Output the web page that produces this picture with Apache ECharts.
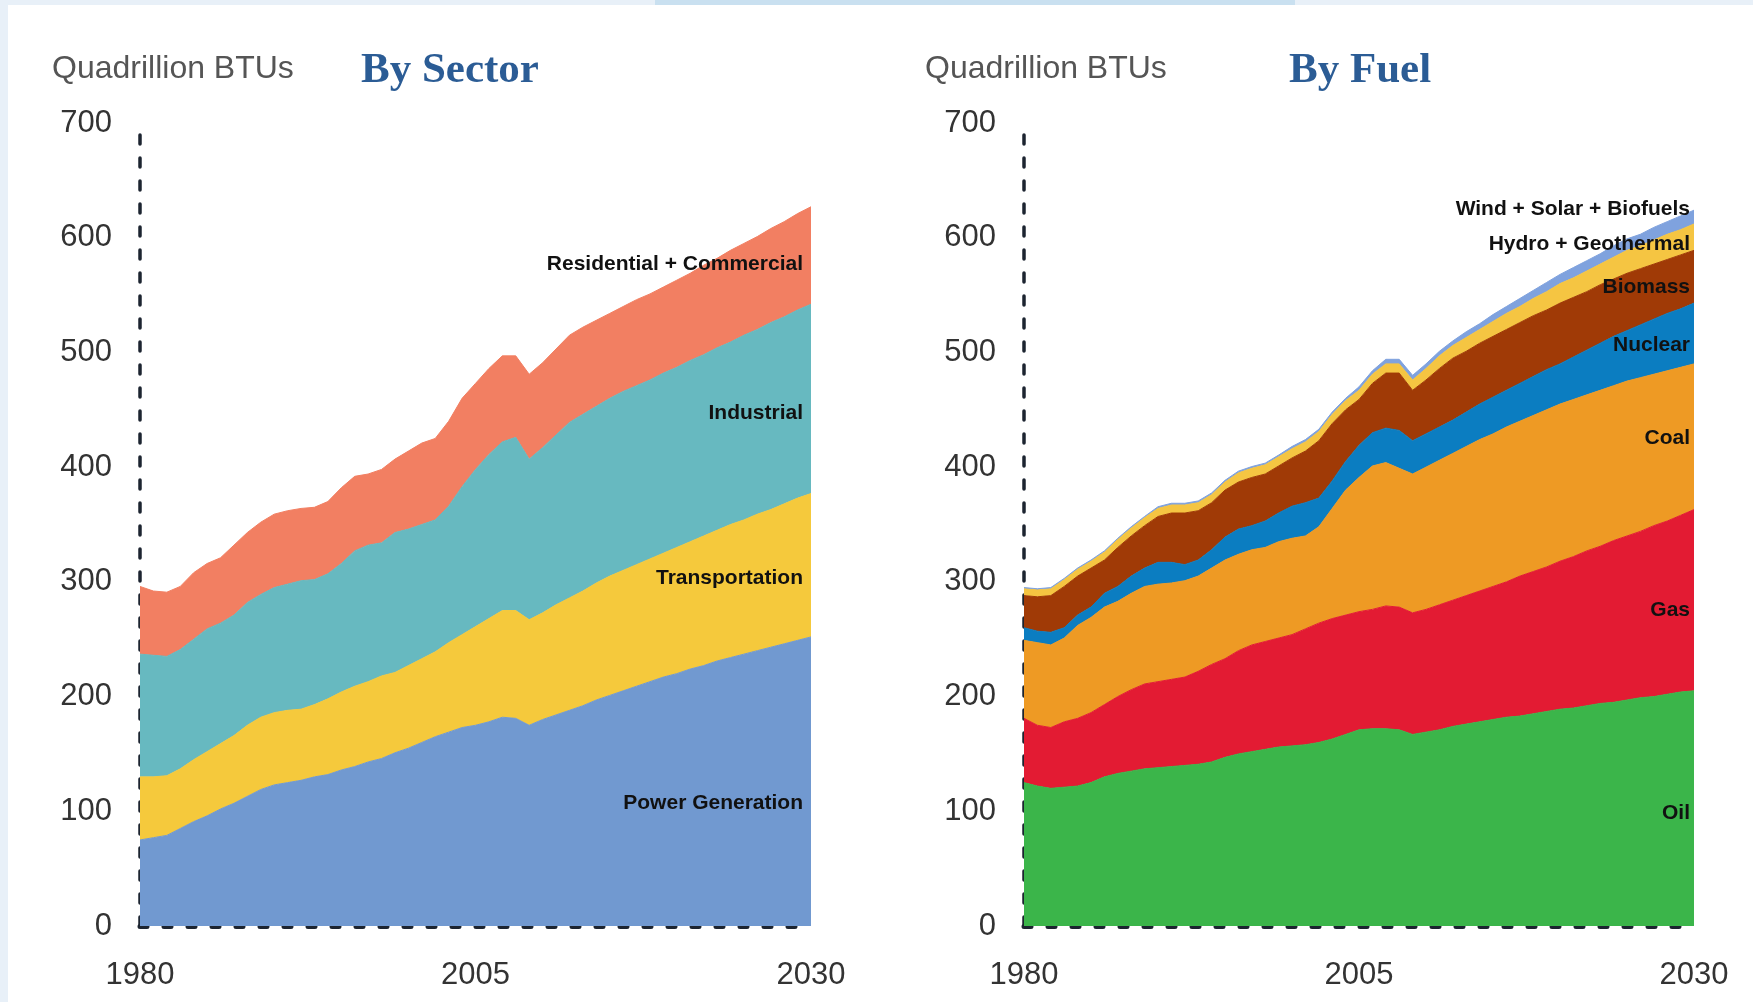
<!DOCTYPE html>
<html>
<head>
<meta charset="utf-8">
<script src="https://cdn.jsdelivr.net/npm/echarts@6/dist/echarts.min.js"></script>
<style>
html,body{margin:0;padding:0;background:#e8f0f8;}
#c{width:1753px;height:1002px;}
</style>
</head>
<body>
<div id="c"></div>
<script>
const years = ['1980','1981','1982','1983','1984','1985','1986','1987','1988','1989',
'1990','1991','1992','1993','1994','1995','1996','1997','1998','1999',
'2000','2001','2002','2003','2004','2005','2006','2007','2008','2009',
'2010','2011','2012','2013','2014','2015','2016','2017','2018','2019',
'2020','2021','2022','2023','2024','2025','2026','2027','2028','2029','2030'];

const yTicks = [0,100,200,300,400,500,600,700];

// By Sector (layer thickness, Quadrillion BTUs)
const powerGeneration = [75,77,79,85,91,96,102,107,113,119,123,125,127,130,132,136,139,143,146,151,155,160,165,169,173,175,178,182,181,175,180,184,188,192,197,201,205,209,213,217,220,224,227,231,234,237,240,243,246,249,252];
const transportation = [55,53,52,52,54,56,57,59,62,63,63,63,62,63,66,68,70,70,72,70,72,73,74,78,81,86,90,93,94,92,93,96,98,100,102,104,105,106,107,108,110,111,113,114,116,117,119,120,122,124,125];
const industrial = [107,106,104,104,105,107,105,105,107,107,109,110,112,109,109,112,118,119,116,122,119,117,115,119,129,137,143,147,151,140,144,148,153,154,154,155,156,156,156,157,157,158,158,159,159,161,161,163,163,164,165];
const residentialCommercial = [59,56,56,55,58,57,57,61,61,63,64,64,63,63,63,66,65,62,64,64,68,71,71,74,77,75,75,75,71,74,74,75,76,76,75,74,74,75,75,75,76,76,78,78,80,80,81,82,83,84,85];

// By Fuel (layer thickness, Quadrillion BTUs)
const oil = [125,122,120,121,122,125,130,133,135,137,138,139,140,141,143,147,150,152,154,156,157,158,160,163,167,171,172,172,171,167,169,171,174,176,178,180,182,183,185,187,189,190,192,194,195,197,199,200,202,204,205];
const gas = [56,53,53,57,59,61,63,67,71,74,75,76,77,81,85,86,90,93,94,95,97,101,104,105,104,103,104,107,107,106,107,109,110,112,114,116,118,122,124,126,129,132,135,137,141,143,145,149,151,154,158];
const coal = [68,72,72,73,81,83,85,83,84,85,85,84,84,83,84,86,84,83,82,84,84,81,84,96,109,117,125,125,121,121,124,126,128,130,132,133,135,135,136,137,137,137,136,136,135,135,134,132,131,129,127];
const nuclear = [11,10,11,9,9,9,12,13,15,16,19,18,14,14,16,20,22,21,23,25,28,29,25,24,25,28,29,30,33,29,29,29,29,30,31,32,32,33,34,35,35,37,39,41,43,44,46,48,50,51,53];
const biomass = [28,30,32,36,34,34,29,34,35,37,40,43,45,43,41,41,41,42,41,41,42,45,50,50,45,40,43,48,50,44,47,51,54,53,53,53,53,53,53,52,53,52,51,51,50,50,49,48,47,47,46];
const hydroGeothermal = [6,6,6,6,6,6,7,7,7,7,7,7,7,7,7,7,8,8,8,8,8,8,8,8,8,8,8,8,8,9,10,11,11,12,12,13,14,14,15,16,17,17,18,18,19,20,20,21,22,22,23];
const windSolarBiofuels = [1,1,1,1,1,1,1,1,1,1,1.5,1.5,1.5,1.5,1.5,1.5,1.5,1.5,1.5,1.5,2,2,2,2,2,3,3,4,4,4,4,4,4,5,5,6,6,7,7,8,8,9,9,9,10,10,10,11,11,12,12];

const sectorSeries = [
  {name:'Power Generation', data:powerGeneration, color:'#7199d0'},
  {name:'Transportation', data:transportation, color:'#f5c93c'},
  {name:'Industrial', data:industrial, color:'#67b9c0'},
  {name:'Residential + Commercial', data:residentialCommercial, color:'#f27f62'}
];
const fuelSeries = [
  {name:'Oil', data:oil, color:'#3bb54a'},
  {name:'Gas', data:gas, color:'#e31b33'},
  {name:'Coal', data:coal, color:'#ee9a24'},
  {name:'Nuclear', data:nuclear, color:'#0b7dc1'},
  {name:'Biomass', data:biomass, color:'#a03a06'},
  {name:'Hydro + Geothermal', data:hydroGeothermal, color:'#f5c542'},
  {name:'Wind + Solar + Biofuels', data:windSolarBiofuels, color:'#7fa2de'}
];

const axisDark = '#1c2430';
function xAxisCfg(idx){
  return {
    type:'category', gridIndex:idx, data:years, boundaryGap:false,
    axisLine:{show:true, lineStyle:{color:axisDark, width:5, type:[7,17]}},
    axisTick:{show:false},
    axisLabel:{interval:24, fontSize:31, color:'#333', margin:34, fontFamily:'Liberation Sans, Arial, sans-serif'},
    splitLine:{show:false}
  };
}
function yAxisCfg(idx){
  return {
    type:'value', gridIndex:idx, min:yTicks[0], max:yTicks[yTicks.length-1], interval:100,
    axisLine:{show:true, lineStyle:{color:axisDark, width:3.5, type:[9,14]}},
    axisTick:{show:false},
    splitLine:{show:false},
    axisLabel:{fontSize:31, color:'#333', margin:28, fontFamily:'Liberation Sans, Arial, sans-serif'}
  };
}
function mk(list, idx, stack){
  return list.map(s => ({
    name:s.name, type:'line', stack:stack, xAxisIndex:idx, yAxisIndex:idx,
    data:s.data, showSymbol:false, symbol:'none', smooth:false,
    lineStyle:{width:1, color:s.color},
    itemStyle:{color:s.color},
    areaStyle:{color:s.color, opacity:1},
    emphasis:{disabled:true}, silent:true
  }));
}

const lblFont = 'bold 21px "Liberation Sans", Arial, sans-serif';
function lbl(text, right, cy){
  return {type:'text', z:100, right:right, top:cy-9, style:{text:text, font:lblFont, fill:'#111', textAlign:'right'}};
}

const chart = echarts.init(document.getElementById('c'), null, {renderer:'canvas'});
chart.setOption({
  backgroundColor:'transparent',
  animation:false,
  grid:[
    {left:140, top:123, width:671, bottom:76},
    {left:1024, top:123, width:670, bottom:76}
  ],
  xAxis:[xAxisCfg(0), xAxisCfg(1)],
  yAxis:[yAxisCfg(0), yAxisCfg(1)],
  series:[...mk(sectorSeries,0,'sector'), ...mk(fuelSeries,1,'fuel')],
  graphic:[
    {type:'rect', z:-10, shape:{x:8, y:5, width:1745, height:997}, style:{fill:'#ffffff'}},
    {type:'rect', z:-9, shape:{x:655, y:0, width:640, height:5}, style:{fill:'#c9e0f0'}},
    {type:'text', z:100, left:52, top:53, style:{text:'Quadrillion BTUs', font:'32px "Liberation Sans", Arial, sans-serif', fill:'#555'}},
    {type:'text', z:100, left:361, top:49, style:{text:'By Sector', font:'bold 43px "Liberation Serif", "Times New Roman", serif', fill:'#2b5c95'}},
    {type:'text', z:100, left:925, top:53, style:{text:'Quadrillion BTUs', font:'32px "Liberation Sans", Arial, sans-serif', fill:'#555'}},
    {type:'text', z:100, left:1289, top:49, style:{text:'By Fuel', font:'bold 43px "Liberation Serif", "Times New Roman", serif', fill:'#2b5c95'}},
    lbl('Residential + Commercial', 1753-803, 263),
    lbl('Industrial', 1753-803, 412),
    lbl('Transportation', 1753-803, 577),
    lbl('Power Generation', 1753-803, 802),
    lbl('Wind + Solar + Biofuels', 1753-1690, 208),
    lbl('Hydro + Geothermal', 1753-1690, 243),
    lbl('Biomass', 1753-1690, 286),
    lbl('Nuclear', 1753-1690, 344),
    lbl('Coal', 1753-1690, 437),
    lbl('Gas', 1753-1690, 609),
    lbl('Oil', 1753-1690, 812)
  ]
});
</script>
</body>
</html>
